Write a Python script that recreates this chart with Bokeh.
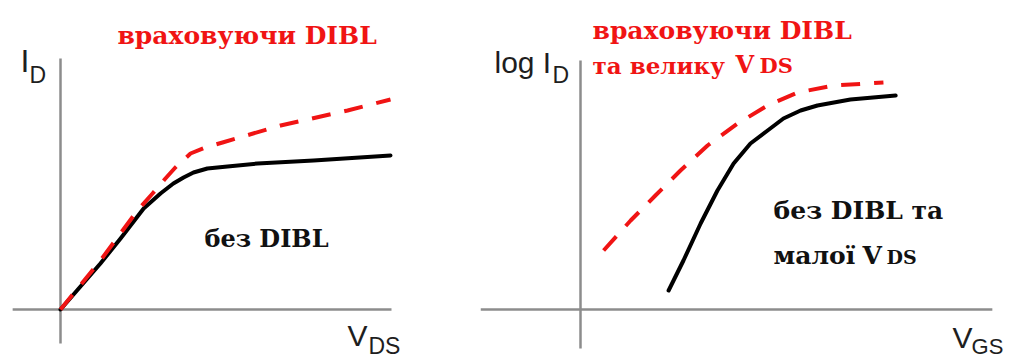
from bokeh.plotting import figure
from bokeh.layouts import row
from bokeh.models import Range1d
from bokeh.core.properties import value
from bokeh.embed import file_html
from bokeh.resources import INLINE

# Output characteristic I_D(V_DS), normalised units
vds_no_dibl = [0.0, 0.121, 0.182, 0.252, 0.303, 0.342, 0.373, 0.403, 0.445,
               0.506, 0.597, 0.767, 1.0]
id_no_dibl = [0.0, 0.184, 0.284, 0.404, 0.464, 0.504, 0.528, 0.548, 0.564,
              0.572, 0.584, 0.596, 0.616]
vds_dibl = [0.0, 0.121, 0.233, 0.279, 0.318, 0.348, 0.394, 0.439, 0.491,
            0.667, 0.870, 1.0]
id_dibl = [0.0, 0.196, 0.396, 0.464, 0.524, 0.568, 0.624, 0.648, 0.668,
           0.736, 0.796, 0.840]

# Transfer characteristic log I_D(V_GS), normalised units
vgs_no_dibl = [0.267, 0.312, 0.364, 0.415, 0.464, 0.515, 0.567, 0.615, 0.667,
               0.718, 0.818, 0.955]
logid_no_dibl = [0.076, 0.196, 0.344, 0.476, 0.584, 0.664, 0.716, 0.764,
                 0.796, 0.816, 0.840, 0.856]
vgs_dibl = [0.070, 0.152, 0.227, 0.303, 0.385, 0.476, 0.567, 0.658, 0.767,
            0.918]
logid_dibl = [0.236, 0.356, 0.456, 0.556, 0.656, 0.744, 0.816, 0.868, 0.896,
              0.908]

RED = "#f01414"
AXIS = "#8c8c8c"
LABEL = "#1e1e1e"
SERIF = value("DejaVu Serif")
SANS = value("Liberation Sans")
PX_PER_UNIT = 250.0


def base(width, x0, x1):
    p = figure(width=width, height=359, x_range=Range1d(x0, x1),
               y_range=Range1d(-0.2, 1.236), output_backend="svg",
               toolbar_location=None, x_axis_location=None,
               y_axis_location=None, min_border=0)
    p.grid.visible = False
    p.outline_line_color = None
    p.background_fill_color = "white"
    p.border_fill_color = "white"
    return p


def note(p, x, y, txt, size, color, font=SERIF, style="bold"):
    # y is the baseline; lift by a fraction of the em size so the glyphs sit on it
    lift = 0.32 * size / PX_PER_UNIT
    p.text(x=[x], y=[y + lift], text=[txt], text_font=font,
           text_font_style=style, text_font_size=f"{size}px",
           text_color=color, text_baseline="alphabetic", text_align="left")


# ---- left panel: I_D vs V_DS ----
left = base(480, -60 / 330, 420 / 330)
left.line([0, 0], [-0.136, 1.004], line_color=AXIS, line_width=2.5)
left.line([-0.145, 1.003], [0, 0], line_color=AXIS, line_width=2.5)
left.line(vds_no_dibl, id_no_dibl, line_color="black", line_width=4,
          line_join="round", line_cap="round")
left.line(vds_dibl, id_dibl, line_color=RED, line_width=4,
          line_dash="19 14", line_join="round")
note(left, -0.121, 0.952, "I", 32, LABEL, SANS, "normal")
note(left, -0.094, 0.908, "D", 23, LABEL, SANS, "normal")
note(left, 0.8697, -0.144, "V", 30, LABEL, SANS, "normal")
note(left, 0.9333, -0.176, "DS", 23, LABEL, SANS, "normal")
note(left, 0.1727, 1.064, "враховуючи DIBL", 25, RED)
note(left, 0.436, 0.252, "без DIBL", 24, "#111111")

# ---- right panel: log I_D vs V_GS ----
right = base(530, -100 / 330, 430 / 330)
right.line([0, 0], [-0.156, 0.996], line_color=AXIS, line_width=2.5)
right.line([-0.303, 1.248], [0, 0], line_color=AXIS, line_width=2.5)
right.line(vgs_no_dibl, logid_no_dibl, line_color="black", line_width=4,
           line_join="round", line_cap="round")
right.line(vgs_dibl, logid_dibl, line_color=RED, line_width=4,
           line_dash="19 14", line_join="round")
note(right, -0.2606, 0.948, "log I", 30, LABEL, SANS, "normal")
note(right, -0.0848, 0.908, "D", 23, LABEL, SANS, "normal")
note(right, 1.127, -0.152, "V", 30, LABEL, SANS, "normal")
note(right, 1.185, -0.176, "GS", 22, LABEL, SANS, "normal")
note(right, 0.0364, 1.084, "враховуючи DIBL", 25, RED)
note(right, 0.0364, 0.948, "та велику", 23, RED)
note(right, 0.4697, 0.948, "V", 24, RED)
note(right, 0.5424, 0.948, "DS", 21, RED)
note(right, 0.585, 0.364, "без DIBL та", 25, "#111111")
note(right, 0.585, 0.184, "малої", 25, "#111111")
note(right, 0.8545, 0.184, "V", 25, "#111111")
note(right, 0.9273, 0.184, "DS", 19, "#111111")

layout = row(left, right, spacing=0)

with open("out.html", "w") as f:
    f.write(file_html(layout, INLINE))
